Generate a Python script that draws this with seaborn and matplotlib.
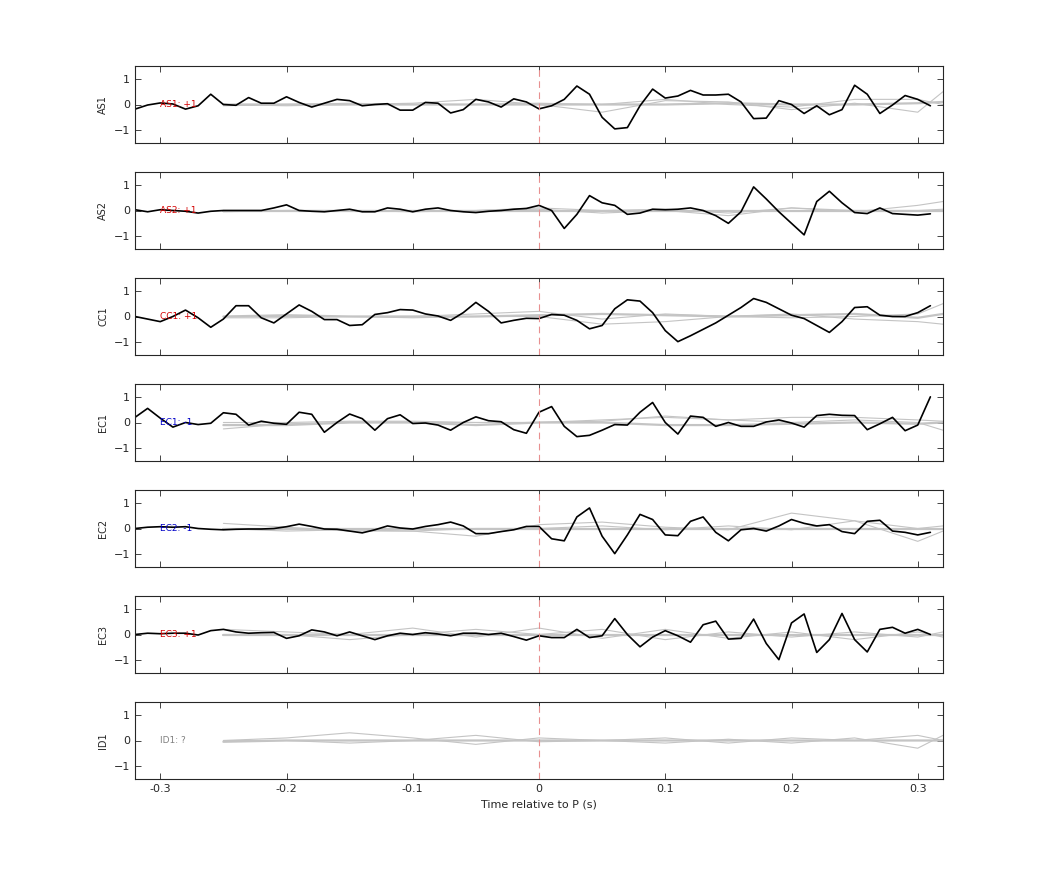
import numpy as np
import pandas as pd
import matplotlib
matplotlib.use("Agg")
import matplotlib.pyplot as plt
import seaborn as sns

sns.set_style("ticks")
plt.rcParams['font.family'] = ['DejaVu Sans']

stations = ["AS1", "AS2", "CC1", "EC1", "EC2", "EC3", "ID1"]
polarity = ["+1", "+1", "+1", "-1", "-1", "+1", "?"]
label_colors = ["#d40000", "#d40000", "#d40000", "#0000c8", "#0000c8", "#d40000", "#808080"]

t_black = [round(-0.32 + 0.01 * i, 2) for i in range(64)]
AS1 = [-0.18, -0.02, 0.06, 0.02, -0.18, -0.05, 0.4, 0.0, -0.03, 0.27, 0.05, 0.05, 0.3, 0.08, -0.1, 0.05,
       0.2, 0.15, -0.05, 0.0, 0.03, -0.22, -0.22, 0.08, 0.05, -0.33, -0.2, 0.2, 0.1, -0.1, 0.22, 0.1,
       -0.17, -0.05, 0.2, 0.72, 0.4, -0.5, -0.95, -0.9, -0.05, 0.6, 0.25, 0.33, 0.55, 0.37, 0.37, 0.4,
       0.1, -0.55, -0.53, 0.15, 0.0, -0.35, -0.05, -0.4, -0.2, 0.75, 0.4, -0.35, -0.02, 0.35, 0.2, -0.05]
AS2 = [0.03, -0.05, 0.03, 0.0, -0.03, -0.1, -0.03, 0.0, 0.0, 0.0, 0.0, 0.1, 0.22, 0.0, -0.03, -0.05,
       0.0, 0.05, -0.05, -0.05, 0.1, 0.05, -0.05, 0.05, 0.1, 0.0, -0.05, -0.08, -0.03, 0.0, 0.05, 0.08,
       0.2, 0.0, -0.7, -0.15, 0.58, 0.3, 0.2, -0.15, -0.1, 0.05, 0.03, 0.05, 0.1, 0.0, -0.2, -0.5,
       -0.05, 0.92, 0.45, -0.05, -0.5, -0.95, 0.35, 0.75, 0.3, -0.08, -0.12, 0.1, -0.12, -0.15, -0.18, -0.13]
CC1 = [0.0, -0.1, -0.2, 0.0, 0.25, -0.05, -0.42, -0.1, 0.42, 0.42, -0.05, -0.25, 0.1, 0.45, 0.2, -0.12,
       -0.12, -0.35, -0.32, 0.08, 0.15, 0.27, 0.25, 0.1, 0.02, -0.15, 0.15, 0.55, 0.2, -0.25, -0.15, -0.07,
       -0.08, 0.08, 0.05, -0.15, -0.48, -0.35, 0.3, 0.65, 0.6, 0.15, -0.55, -0.98, -0.75, -0.5, -0.25, 0.05,
       0.35, 0.7, 0.55, 0.3, 0.05, -0.08, -0.35, -0.62, -0.2, 0.35, 0.38, 0.05, 0.0, 0.0, 0.15, 0.42]
EC1 = [0.2, 0.55, 0.17, -0.18, 0.0, -0.08, -0.03, 0.38, 0.32, -0.1, 0.05, -0.03, -0.07, 0.4, 0.32, -0.38,
       0.0, 0.33, 0.15, -0.3, 0.15, 0.3, -0.04, -0.02, -0.1, -0.3, 0.0, 0.22, 0.07, 0.03, -0.28, -0.42,
       0.4, 0.62, -0.15, -0.55, -0.5, -0.3, -0.08, -0.1, 0.4, 0.78, 0.0, -0.45, 0.25, 0.2, -0.15, 0.0,
       -0.15, -0.15, 0.02, 0.1, -0.02, -0.18, 0.27, 0.32, 0.28, 0.27, -0.28, -0.05, 0.2, -0.32, -0.1, 1.0]
EC2 = [0.0, 0.05, 0.07, 0.05, 0.07, 0.0, -0.03, -0.05, -0.03, -0.02, -0.02, 0.0, 0.07, 0.17, 0.08, -0.02,
       -0.03, -0.1, -0.17, -0.05, 0.1, 0.02, -0.02, 0.08, 0.15, 0.25, 0.1, -0.2, -0.2, -0.12, -0.05, 0.08,
       0.08, -0.4, -0.48, 0.45, 0.8, -0.3, -0.98, -0.25, 0.55, 0.35, -0.25, -0.28, 0.28, 0.45, -0.15, -0.48,
       -0.05, 0.0, -0.1, 0.1, 0.35, 0.2, 0.1, 0.15, -0.12, -0.2, 0.28, 0.32, -0.1, -0.15, -0.25, -0.15]
EC3 = [0.0, 0.05, 0.03, 0.05, 0.05, -0.02, 0.15, 0.2, 0.1, 0.05, 0.07, 0.08, -0.15, -0.05, 0.18, 0.1,
       -0.05, 0.1, -0.05, -0.2, -0.05, 0.05, 0.0, 0.07, 0.02, -0.05, 0.05, 0.05, 0.0, 0.05, -0.08, -0.22,
       -0.05, -0.12, -0.12, 0.2, -0.12, -0.05, 0.62, 0.0, -0.48, -0.1, 0.15, -0.05, -0.3, 0.38, 0.52, -0.18,
       -0.15, 0.6, -0.35, -0.98, 0.45, 0.8, -0.7, -0.2, 0.82, -0.2, -0.68, 0.2, 0.28, 0.05, 0.2, 0.0]
black = {"AS1": AS1, "AS2": AS2, "CC1": CC1, "EC1": EC1, "EC2": EC2, "EC3": EC3, "ID1": None}

t_gray = [-0.25, -0.2, -0.15, -0.1, -0.05, 0.0, 0.05, 0.1, 0.15, 0.2, 0.25, 0.3, 0.32]
gray = {
    "AS1": [[0, -0.05, 0, 0.05, 0.2, 0, -0.3, 0.15, 0.1, -0.2, 0.05, -0.3, 0.5],
            [-0.05, 0, 0.05, 0, 0, 0.05, 0, 0.2, 0.0, -0.1, 0.2, 0.2, 0.0],
            [0, 0, 0, 0, 0, 0, 0, 0, 0.05, 0, 0, 0.05, 0.1]],
    "AS2": [[0, 0, 0, 0, 0, 0.1, 0, 0.05, -0.1, 0.1, -0.05, 0.2, 0.35],
            [-0.05, 0, 0, -0.05, 0, 0.05, -0.1, 0, -0.2, 0.1, 0, 0, 0.05],
            [0, 0, 0, 0, 0, 0, 0, 0, 0, 0, 0, 0, 0]],
    "CC1": [[0, 0, 0, 0, 0.1, 0.2, -0.1, 0.1, 0, -0.05, 0, 0.1, 0.5],
            [-0.05, -0.05, 0, -0.05, 0, 0, -0.3, -0.2, 0, 0.1, -0.1, -0.2, -0.3],
            [0.0, 0.05, 0, 0, 0, 0.05, 0.1, 0.05, 0, 0.05, 0.1, -0.05, 0.1]],
    "EC1": [[-0.25, -0.05, 0, 0, 0, 0, 0.1, 0.2, 0.1, 0, 0.1, 0, -0.3],
            [0, 0, 0.05, 0.05, 0, 0, 0.05, 0.25, 0.1, 0.2, 0.2, 0.1, 0.05],
            [-0.1, -0.1, 0, 0, -0.1, 0, 0, -0.1, -0.1, -0.05, 0, -0.05, 0]],
    "EC2": [[0.2, 0.05, -0.1, -0.1, -0.3, 0.15, 0.25, 0.05, -0.05, 0.6, 0.3, -0.5, -0.1],
            [0.0, -0.1, -0.05, -0.1, 0, 0, 0.1, -0.05, 0.1, -0.05, 0.3, 0.0, 0.1],
            [0, 0, 0, 0, 0, 0, 0, 0, 0, 0, 0, 0, 0]],
    "EC3": [[0.2, 0.1, 0.0, 0.25, -0.1, 0.25, -0.15, 0.2, -0.15, 0.1, -0.2, 0.1, -0.1],
            [0, 0, -0.2, 0, 0.2, 0, 0.2, -0.2, 0.1, -0.1, 0.1, -0.1, 0.1],
            [0, 0, 0, 0, 0, 0, 0, 0, 0, 0, 0, 0, 0]],
    "ID1": [[0, 0.1, 0.3, 0.1, -0.15, 0.1, 0, -0.1, 0.05, -0.1, 0.1, -0.3, 0.2],
            [0, 0, -0.1, 0, 0.2, -0.05, 0, 0.1, -0.1, 0.1, 0, 0.2, 0],
            [-0.05, 0, 0, 0, 0, 0, 0, 0, 0, 0, 0, 0, 0.0]],
}

fig = plt.figure(figsize=(10.42, 8.75), dpi=100)
W, H = 1042, 875
left, right = 135 / W, 943 / W
tops = [66, 172, 278, 384, 490, 596, 702]
ph = 77
axes = []
for i, st in enumerate(stations):
    ax = fig.add_axes([left, 1 - (tops[i] + ph) / H, right - left, ph / H])
    axes.append(ax)
    for k, g in enumerate(gray[st]):
        df = pd.DataFrame({"t": t_gray, "v": g})
        sns.lineplot(data=df, x="t", y="v", ax=ax, color="#c4c4c4",
                     lw=1.6 if k == 2 else 0.8, estimator=None, sort=False)
    if black[st] is not None:
        df = pd.DataFrame({"t": t_black, "v": black[st]})
        sns.lineplot(data=df, x="t", y="v", ax=ax, color="black", lw=1.2,
                     estimator=None, sort=False)
    ax.axvline(0, color="#e89090", lw=0.8, ls=(0, (6, 4)))
    ax.text(-0.30, 0, f"{st}: {polarity[i]}", color=label_colors[i], fontsize=6.5,
            va="center", ha="left")
    ax.set_xlim(-0.32, 0.32)
    ax.set_ylim(-1.5, 1.5)
    ax.set_yticks([-1, 0, 1])
    ax.set_xticks([-0.3, -0.2, -0.1, 0, 0.1, 0.2, 0.3])
    ax.tick_params(direction="in", top=True, right=True, labelsize=8, length=4, width=0.6)
    ax.set_ylabel(st, fontsize=7)
    ax.set_xlabel("")
    for s in ax.spines.values():
        s.set_linewidth(0.8)
        s.set_visible(True)
    if i < len(stations) - 1:
        ax.set_xticklabels([])
    else:
        ax.set_xticklabels(["-0.3", "-0.2", "-0.1", "0", "0.1", "0.2", "0.3"])
        ax.set_xlabel("Time relative to P (s)", fontsize=8)

fig.savefig("out.png", dpi=100)
